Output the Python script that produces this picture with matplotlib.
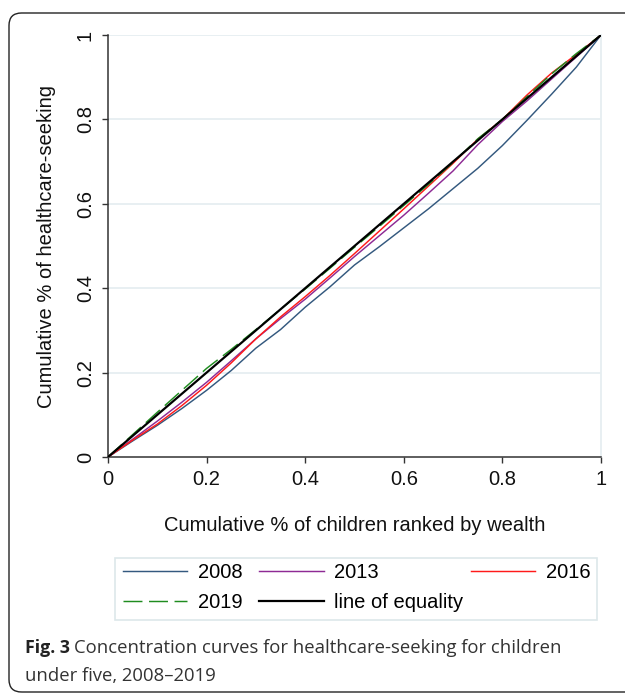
import matplotlib
matplotlib.use("Agg")
import matplotlib.pyplot as plt
from matplotlib.patches import FancyBboxPatch, Rectangle
from matplotlib.ticker import FixedLocator, FuncFormatter

# Cumulative share of children ranked by wealth
wealth_rank = [0.00, 0.05, 0.10, 0.15, 0.20, 0.25, 0.30, 0.35, 0.40, 0.45, 0.50,
               0.55, 0.60, 0.65, 0.70, 0.75, 0.80, 0.85, 0.90, 0.95, 1.00]

# Cumulative share of healthcare-seeking, by survey year
seek_2008 = [0.000, 0.038, 0.075, 0.115, 0.158, 0.205, 0.258, 0.302, 0.355, 0.403, 0.455,
             0.498, 0.543, 0.588, 0.636, 0.684, 0.738, 0.798, 0.860, 0.924, 1.000]
seek_2013 = [0.000, 0.042, 0.085, 0.130, 0.177, 0.228, 0.280, 0.328, 0.374, 0.424, 0.475,
             0.524, 0.573, 0.625, 0.678, 0.740, 0.795, 0.844, 0.896, 0.948, 1.000]
seek_2016 = [0.000, 0.040, 0.078, 0.122, 0.170, 0.223, 0.280, 0.332, 0.380, 0.430, 0.482,
             0.535, 0.588, 0.642, 0.696, 0.753, 0.800, 0.858, 0.910, 0.954, 1.000]
seek_2019 = [0.000, 0.053, 0.106, 0.158, 0.210, 0.255, 0.302, 0.350, 0.398, 0.447, 0.497,
             0.546, 0.596, 0.646, 0.698, 0.754, 0.800, 0.854, 0.908, 0.956, 1.000]
equality = [0.0, 1.0]

tick_values = [0, 0.2, 0.4, 0.6, 0.8, 1]
tick_labels = ["0", "0.2", "0.4", "0.6", "0.8", "1"]

W, H = 625, 693
fig = plt.figure(figsize=(W / 100, H / 100), dpi=100)
fig.patch.set_facecolor("white")

plt.rcParams["font.family"] = ["Liberation Sans", "DejaVu Sans"]


def fx(px):
    return px / W


def fy(py):
    return 1 - py / H


# Outer rounded frame of the figure panel
frame = FancyBboxPatch((fx(9), fy(692)), fx(700), (692 - 13) / H,
                       boxstyle="round,pad=0,rounding_size=0.02",
                       transform=fig.transFigure, facecolor="none",
                       edgecolor="#222222", linewidth=1.0, mutation_aspect=W / H)
fig.patches.append(frame)

ax = fig.add_axes([fx(108), fy(457), 493 / W, 422 / H])
ax.set_xlim(0, 1)
ax.set_ylim(0, 1)

grid_col = "#e6eef1"
for v in tick_values[1:]:
    ax.axhline(v, color=grid_col, linewidth=1.3, zorder=0)

l08, = ax.plot(wealth_rank, seek_2008, color="#34597f", linewidth=1.05, label="2008", zorder=2)
l13, = ax.plot(wealth_rank, seek_2013, color="#8e2a94", linewidth=1.05, label="2013", zorder=3)
l16, = ax.plot(wealth_rank, seek_2016, color="#ff1a1a", linewidth=1.05, label="2016", zorder=4)
l19, = ax.plot(wealth_rank, seek_2019, color="#1f8c1f", linewidth=1.05, label="2019",
               dashes=(13, 4.5), zorder=5)
leq, = ax.plot(equality, equality, color="black", linewidth=1.6, label="line of equality", zorder=6)

ax.spines["top"].set_visible(False)
ax.spines["right"].set_color(grid_col)
ax.spines["right"].set_linewidth(1.3)
for s in ["left", "bottom"]:
    ax.spines[s].set_color("#333333")
    ax.spines[s].set_linewidth(1.1)

ax.xaxis.set_major_locator(FixedLocator(tick_values))
ax.yaxis.set_major_locator(FixedLocator(tick_values))
fmt = FuncFormatter(lambda v, p: tick_labels[tick_values.index(round(v, 1))]
                    if round(v, 1) in tick_values else "")
ax.xaxis.set_major_formatter(fmt)
ax.yaxis.set_major_formatter(fmt)
ax.tick_params(axis="both", direction="out", length=4.5, width=1.0, color="#333333",
               labelsize=14.5, labelcolor="#111111")
ax.tick_params(axis="x", pad=5)
ax.tick_params(axis="y", pad=5, labelrotation=90)
for lab in ax.get_yticklabels():
    lab.set_va("center")

ax.set_xlabel("Cumulative % of children ranked by wealth", fontsize=14.5,
              color="#111111", labelpad=19)
ax.set_ylabel("Cumulative % of healthcare-seeking", fontsize=14.5,
              color="#111111", labelpad=14)

# Legend: box, two left columns, and a right column
box = Rectangle((fx(115), fy(620)), (597 - 115) / W, (620 - 558) / H,
                transform=fig.transFigure, facecolor="white",
                edgecolor="#dde8ea", linewidth=1.2)
fig.patches.append(box)

leg_kw = dict(loc="upper left", bbox_transform=fig.transFigure, fontsize=14.5,
              frameon=False, handlelength=3.2, handletextpad=0.5,
              labelspacing=0.55, borderpad=0, borderaxespad=0)
leg_a = fig.legend(handles=[l08, l19, l13, leq],
                   labels=["2008", "2019", "2013", "line of equality"],
                   ncol=2, columnspacing=0.85, bbox_to_anchor=(fx(123), fy(563)), **leg_kw)
leg_b = fig.legend(handles=[l16], labels=["2016"], ncol=1,
                   bbox_to_anchor=(fx(471), fy(563)), **leg_kw)

# Caption
cap_font = ["Open Sans", "DejaVu Sans"]
cap_y1 = fy(648)
cap_y2 = fy(676)
t1 = fig.text(fx(25), cap_y1, "Fig. 3", fontsize=12.8, fontweight="bold",
              family=cap_font, color="#222222", va="center")
fig.canvas.draw()
bb = t1.get_window_extent()
fig.text(fx(bb.x1 + 4), cap_y1, "Concentration curves for healthcare-seeking for children",
         fontsize=13.3, family=cap_font, color="#333333", va="center")
fig.text(fx(25), cap_y2, "under five, 2008\u20132019", fontsize=13.3,
         family=cap_font, color="#333333", va="center")

fig.savefig("out.png", dpi=100, facecolor="white")
